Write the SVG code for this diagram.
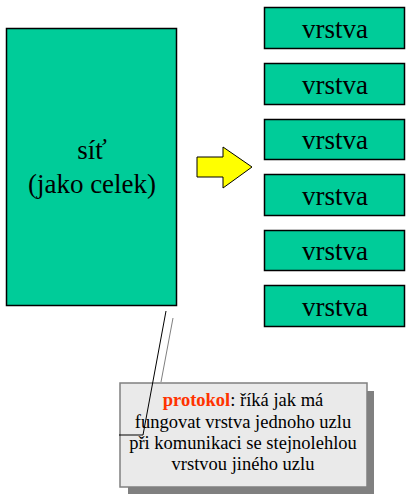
<svg xmlns="http://www.w3.org/2000/svg" width="408" height="497" viewBox="0 0 408 497">
<style>
.box{fill:#00CC99;stroke:#000;stroke-width:1.5}
.lbl{font-family:'Liberation Serif',serif;font-size:27px;fill:#000;text-anchor:middle}
.note{font-family:'Liberation Serif',serif;font-size:18.5px;fill:#000;text-anchor:middle}
</style>
<rect width="408" height="497" fill="#fff"/>
<g id="sit">
<rect class="box" x="6.5" y="28.5" width="170" height="277"/>
<text class="lbl" x="92" y="159">síť</text>
<text class="lbl" x="92" y="193">(jako celek)</text>
</g>
<g id="arrow">
<polygon points="197,157 223,157 223,147 252,167 223,188 223,177 197,177" fill="#FFFF00" stroke="#000" stroke-width="1"/>
</g>
<g id="vrstva1"><rect class="box" x="264.5" y="7.5" width="140" height="41"/><text class="lbl" x="335" y="38">vrstva</text></g>
<g id="vrstva2"><rect class="box" x="264.5" y="63.5" width="140" height="41"/><text class="lbl" x="335" y="94">vrstva</text></g>
<g id="vrstva3"><rect class="box" x="264.5" y="119.5" width="140" height="40"/><text class="lbl" x="335" y="149">vrstva</text></g>
<g id="vrstva4"><rect class="box" x="264.5" y="174.5" width="140" height="41"/><text class="lbl" x="335" y="205">vrstva</text></g>
<g id="vrstva5"><rect class="box" x="264.5" y="230.5" width="140" height="40"/><text class="lbl" x="335" y="260">vrstva</text></g>
<g id="vrstva6"><rect class="box" x="264.5" y="285.5" width="140" height="41"/><text class="lbl" x="335" y="316">vrstva</text></g>
<g id="callout">
<rect x="128" y="391" width="246" height="103" fill="#808080"/>
<rect x="120" y="383" width="247" height="104" fill="#EAEAEA" stroke="#808080" stroke-width="1.5"/>
<text class="note" x="243" y="406"><tspan fill="#FF3300" font-weight="bold">protokol</tspan>: říká jak má</text>
<text class="note" x="243" y="428">fungovat vrstva jednoho uzlu</text>
<text class="note" x="243" y="449">při komunikaci se stejnolehlou</text>
<text class="note" x="243" y="470">vrstvou jiného uzlu</text>
</g>
<g id="connectors" fill="none">
<polyline points="166,311 143,435 119,435" stroke="#000" stroke-width="1"/>
<line x1="173" y1="318" x2="161" y2="382" stroke="#808080" stroke-width="1"/>
</g>
</svg>
